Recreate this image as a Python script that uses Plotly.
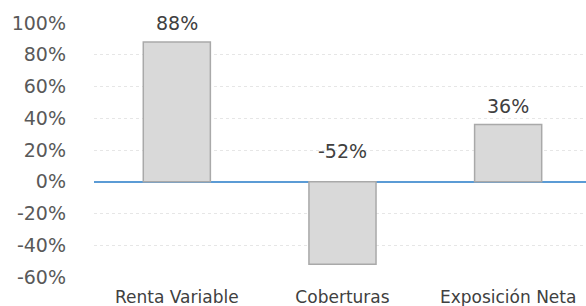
import plotly.graph_objects as go

categories = ["Renta Variable", "Coberturas", "Exposición Neta"]
values = [88, -52, 36]
label_texts = ["88%", "-52%", "36%"]
tick_vals = [-60, -40, -20, 0, 20, 40, 60, 80, 100]
tick_text = ["-60%", "-40%", "-20%", "0%", "20%", "40%", "60%", "80%", "100%"]

fig = go.Figure()
fig.add_trace(go.Bar(
    x=categories, y=values, width=0.405,
    marker=dict(color="#d9d9d9", line=dict(color="#a9a9a9", width=1.5)),
    hoverinfo="skip",
))

for c, v, t in zip(categories, values, label_texts):
    fig.add_annotation(
        x=c, y=max(v, 0), text=t, showarrow=False,
        yshift=19 if v > 0 else 31, yanchor="middle",
        font=dict(family="DejaVu Sans", size=19, color="#404040"),
    )

fig.update_layout(
    width=586, height=306,
    margin=dict(l=93.6, r=0, t=23.3, b=29.3, autoexpand=False),
    paper_bgcolor="white", plot_bgcolor="white",
    showlegend=False,
    xaxis=dict(
        range=[-0.5, 2.47], showgrid=False, zeroline=False, showline=False,
        automargin=False,
        ticks="", tickfont=dict(family="DejaVu Sans", size=17, color="#404040"),
        ticklabelstandoff=8,
    ),
    yaxis=dict(
        range=[-60, 100], tickvals=tick_vals, ticktext=tick_text,
        automargin=False,
        showgrid=True, gridcolor="#e6e6e6", griddash="dot", gridwidth=1,
        zeroline=True, zerolinecolor="#5b9bd5", zerolinewidth=1.5,
        showline=False, ticks="",
        tickfont=dict(family="DejaVu Sans", size=19, color="#595959"),
        ticklabelstandoff=27,
    ),
)

fig.write_html(
    "out.html",
    config={"displayModeBar": False},
    post_script="document.body.style.margin='0';document.body.style.overflow='hidden';",
)
